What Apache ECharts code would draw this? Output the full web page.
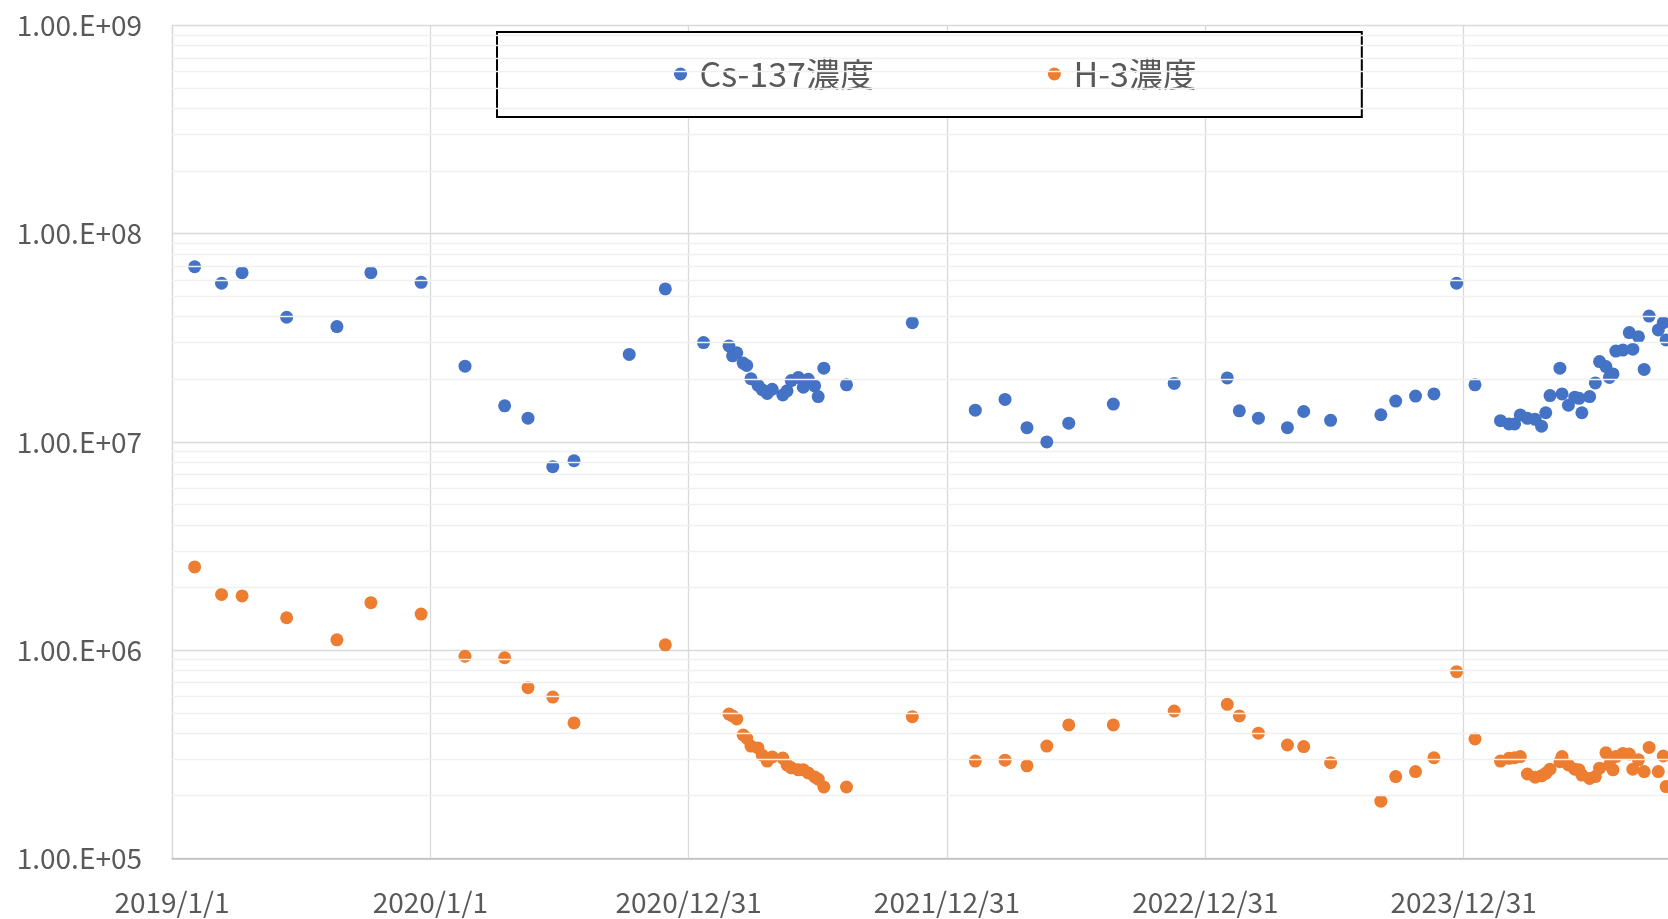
<!DOCTYPE html>
<html>
<head>
<meta charset="utf-8">
<script src="https://cdn.jsdelivr.net/npm/echarts@6/dist/echarts.min.js"></script>
<style>
html,body{margin:0;padding:0;background:#fff;}
#chart{width:1668px;height:919px;}
</style>
</head>
<body>
<div id="chart"></div>
<script>
// ---- data ----
const seriesNames = ['Cs-137濃度', 'H-3濃度'];
const dates = [
  '2019/2/2','2019/3/12','2019/4/10','2019/6/12','2019/8/22','2019/10/9','2019/12/19',
  '2020/2/19','2020/4/15','2020/5/18','2020/6/22','2020/7/22','2020/10/8','2020/11/28',
  '2021/1/21','2021/2/26','2021/3/3','2021/3/9','2021/3/18','2021/3/23','2021/3/29','2021/4/8',
  '2021/4/14','2021/4/21','2021/4/28','2021/5/13','2021/5/19','2021/5/25','2021/6/4','2021/6/11',
  '2021/6/18','2021/6/27','2021/7/2','2021/7/10','2021/8/11',
  '2021/11/12',
  '2022/2/9','2022/3/23','2022/4/23','2022/5/21','2022/6/21','2022/8/23','2022/11/17',
  '2023/1/31','2023/2/17','2023/3/16','2023/4/26','2023/5/19','2023/6/26','2023/9/5','2023/9/26',
  '2023/10/24','2023/11/19','2023/12/21',
  '2024/1/16','2024/2/21','2024/3/4','2024/3/12','2024/3/20','2024/3/30','2024/4/10','2024/4/19',
  '2024/4/25','2024/5/1','2024/5/15','2024/5/18','2024/5/27','2024/6/5','2024/6/11','2024/6/15',
  '2024/6/26','2024/7/4','2024/7/10','2024/7/19','2024/7/24','2024/7/29','2024/8/2','2024/8/12',
  '2024/8/21','2024/8/26','2024/9/3','2024/9/11','2024/9/18','2024/10/1','2024/10/8','2024/10/12'
];
const cs137 = [
  6.94e7,5.78e7,6.5e7,3.97e7,3.58e7,6.5e7,5.84e7,
  2.31e7,1.49e7,1.3e7,7.6e6,8.12e6,2.63e7,5.43e7,
  3.0e7,2.89e7,2.59e7,2.68e7,2.39e7,2.33e7,2.01e7,1.87e7,
  1.78e7,1.71e7,1.79e7,1.68e7,1.76e7,1.97e7,2.04e7,1.83e7,
  2.0e7,1.86e7,1.65e7,2.26e7,1.88e7,
  3.74e7,
  1.42e7,1.6e7,1.17e7,1.0e7,1.23e7,1.52e7,1.91e7,
  2.03e7,1.41e7,1.3e7,1.17e7,1.4e7,1.27e7,1.35e7,1.57e7,
  1.66e7,1.7e7,5.78e7,
  1.88e7,1.264e7,1.219e7,1.22e7,1.347e7,1.298e7,1.284e7,1.19e7,
  1.38e7,1.67e7,2.26e7,1.7e7,1.5e7,1.64e7,1.62e7,1.38e7,
  1.65e7,1.92e7,2.43e7,2.3e7,2.04e7,2.12e7,2.73e7,2.76e7,
  3.35e7,2.79e7,3.2e7,2.23e7,4.02e7,3.45e7,3.74e7,3.09e7
];
const h3 = [
  2.51e6,1.85e6,1.82e6,1.43e6,1.12e6,1.69e6,1.49e6,
  9.34e5,9.19e5,6.6e5,5.95e5,4.47e5,null,1.06e6,
  null,4.93e5,4.83e5,4.67e5,3.91e5,3.78e5,3.46e5,3.39e5,
  3.13e5,2.93e5,3.07e5,3.03e5,2.81e5,2.72e5,2.66e5,2.66e5,
  2.57e5,2.46e5,2.4e5,2.2e5,2.2e5,
  4.79e5,
  2.93e5,2.96e5,2.78e5,3.46e5,4.37e5,4.37e5,5.1e5,
  5.49e5,4.83e5,3.99e5,3.5e5,3.44e5,2.88e5,1.88e5,2.47e5,
  2.61e5,3.04e5,7.88e5,
  3.74e5,2.93e5,3.02e5,3.04e5,3.08e5,2.54e5,2.45e5,2.49e5,
  2.56e5,2.68e5,2.91e5,3.08e5,2.81e5,2.68e5,2.66e5,2.51e5,
  2.42e5,2.47e5,2.71e5,3.21e5,2.81e5,2.66e5,3.08e5,3.19e5,
  3.17e5,2.68e5,2.97e5,2.61e5,3.41e5,2.61e5,3.1e5,2.21e5
];
const xTickLabels = ['2019/1/1','2020/1/1','2020/12/31','2021/12/31','2022/12/31','2023/12/31'];
const yTickLabels = ['1.00.E+05','1.00.E+06','1.00.E+07','1.00.E+08','1.00.E+09'];
const minorMultipliers = [2,3,4,5,6,7,8,9];
const decades = [1e5,1e6,1e7,1e8];

// ---- build ----
const BASE = Date.UTC(2019,0,1);
function toDay(s){ const p = s.split('/').map(Number); return Math.round((Date.UTC(p[0],p[1]-1,p[2]) - BASE)/86400000); }
function pairs(vals){ const out=[]; dates.forEach((d,i)=>{ if(vals[i]!=null) out.push([toDay(d), vals[i]]); }); return out; }

const minorLines = [];
decades.forEach(dv => minorMultipliers.forEach(m => minorLines.push({yAxis: dv*m})));

const FONT = '"Noto Sans CJK JP", "Noto Sans", sans-serif';
const chart = echarts.init(document.getElementById('chart'));
chart.setOption({
  animation: false,
  backgroundColor: '#ffffff',
  grid: { left: 172, top: 25.5, bottom: 60.7, width: 1550, containLabel: false, outerBoundsMode: 'none' },
  legend: {
    data: seriesNames,
    left: 497, top: 32,
    orient: 'horizontal',
    icon: 'circle',
    itemWidth: 28, itemHeight: 13,
    itemGap: 174,
    padding: [25, 165, 26, 177],
    backgroundColor: '#ffffff',
    borderColor: '#000000',
    borderWidth: 2,
    borderRadius: 0,
    itemStyle: { opacity: 1 },
    textStyle: { fontFamily: FONT, fontSize: 34, color: '#595959' }
  },
  xAxis: {
    type: 'value', min: 0, max: 2190, interval: 365,
    axisLine: { show: true, lineStyle: { color: '#bfbfbf', width: 1.5 } },
    axisTick: { show: false },
    splitLine: { show: true, lineStyle: { color: '#d9d9d9', width: 1.3 } },
    axisLabel: {
      margin: 30, fontFamily: FONT, fontSize: 28, color: '#595959',
      formatter: v => xTickLabels[Math.round(v/365)] || ''
    }
  },
  yAxis: {
    type: 'log', logBase: 10, min: 1e5, max: 1e9,
    axisLine: { show: true, lineStyle: { color: '#d9d9d9', width: 1.3 } },
    axisTick: { show: false },
    splitLine: { show: true, lineStyle: { color: '#d9d9d9', width: 1.3 } },
    axisLabel: {
      margin: 30, fontFamily: FONT, fontSize: 28, color: '#595959',
      formatter: v => yTickLabels[Math.round(Math.log10(v)) - 5] || ''
    }
  },
  series: [
    {
      name: '_minor', type: 'line', data: [], z: 1, silent: true,
      markLine: {
        silent: true, symbol: 'none', animation: false,
        label: { show: false },
        lineStyle: { color: '#f0f0f0', width: 1.3, type: 'solid' },
        emphasis: { disabled: true },
        data: minorLines
      }
    },
    {
      name: seriesNames[0], type: 'scatter', z: 3,
      symbol: 'circle', symbolSize: 13,
      itemStyle: { color: '#4472C4', opacity: 1 },
      data: pairs(cs137)
    },
    {
      name: seriesNames[1], type: 'scatter', z: 3,
      symbol: 'circle', symbolSize: 13,
      itemStyle: { color: '#ED7D31', opacity: 1 },
      data: pairs(h3)
    }
  ]
});
</script>
</body>
</html>
